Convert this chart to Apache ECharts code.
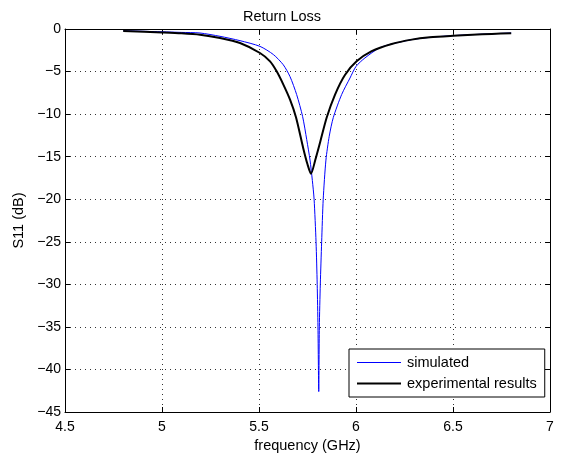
<!DOCTYPE html>
<html>
<head>
<meta charset="utf-8">
<script src="https://cdn.jsdelivr.net/npm/echarts@6/dist/echarts.min.js"></script>
<style>
  html, body { margin: 0; padding: 0; background: #fff; }
  #chart { width: 564px; height: 459px; }
</style>
</head>
<body>
<div id="chart"></div>
<script>
// Simulated S11 (blue trace)
const freqSim = [4.80, 5.00, 5.10, 5.196, 5.299, 5.402, 5.505, 5.574, 5.625, 5.66, 5.694, 5.725, 5.746, 5.763, 5.775, 5.784, 5.794, 5.800, 5.804, 5.808, 5.811, 5.816, 5.823, 5.831, 5.845, 5.862, 5.883, 5.926, 5.969, 6.00, 6.046, 6.12, 6.184, 6.287, 6.381, 6.50, 6.60, 6.70, 6.80];
const s11Sim  = [-0.20, -0.33, -0.40, -0.47, -0.86, -1.37, -2.04, -3.00, -4.20, -5.60, -7.70, -10.30, -13.00, -15.40, -17.80, -20.00, -25.00, -30.00, -35.00, -42.60, -35.00, -30.00, -25.00, -20.00, -15.40, -12.60, -10.40, -7.70, -5.76, -4.40, -3.40, -2.23, -1.76, -1.25, -0.98, -0.78, -0.66, -0.56, -0.47];

// Measured S11 (black trace)
const freqExp = [4.80, 5.00, 5.10, 5.196, 5.299, 5.402, 5.505, 5.557, 5.591, 5.625, 5.66, 5.691, 5.728, 5.750, 5.768, 5.790, 5.814, 5.849, 5.892, 5.943, 6.003, 6.081, 6.184, 6.287, 6.381, 6.50, 6.60, 6.70, 6.80];
const s11Exp  = [-0.23, -0.40, -0.50, -0.67, -1.06, -1.65, -2.82, -3.80, -4.97, -6.50, -8.30, -10.40, -14.00, -15.90, -17.00, -15.40, -13.40, -10.40, -7.70, -5.40, -3.80, -2.60, -1.76, -1.25, -0.98, -0.80, -0.68, -0.58, -0.50];

// Axis ticks
const xTicks = { min: 4.5, max: 7, step: 0.5 };
const yTicks = { min: -45, max: 0, step: 5 };

const seriesNames = ['simulated', 'experimental results'];

const pairs = (xs, ys) => xs.map((x, i) => [x, ys[i]]);
const minus = v => String(v).replace('-', '\u2212');

const FONT = 'Liberation Sans';
const dotted = { color: '#333', width: 1, type: [1, 4] };

// thin bar icons used as line samples in the legend
const lineIcon = h => 'path://M0,0L88,0L88,' + h + 'L0,' + h + 'Z';

const chart = echarts.init(document.getElementById('chart'), null, { renderer: 'canvas' });

chart.setOption({
  animation: false,
  backgroundColor: '#fff',
  textStyle: { fontFamily: FONT, color: '#000' },
  title: {
    text: 'Return Loss',
    left: 'center',
    top: 4,
    textStyle: { fontFamily: FONT, fontSize: 14.5, fontWeight: 'normal', color: '#000' }
  },
  grid: { left: 65, right: 14, top: 29, bottom: 47, containLabel: false },
  legend: {
    orient: 'vertical',
    left: 349,
    top: 349,
    padding: [6, 8, 6, 8],
    itemGap: 6,
    itemWidth: 44,
    itemHeight: 14,
    symbolKeepAspect: true,
    backgroundColor: '#fff',
    borderColor: '#000',
    borderWidth: 1,
    borderRadius: 0,
    textStyle: { fontFamily: FONT, fontSize: 14.5, color: '#000', padding: [0, 0, 0, 1] },
    data: [
      { name: seriesNames[0], icon: lineIcon(2) },
      { name: seriesNames[1], icon: lineIcon(4) }
    ]
  },
  xAxis: [{
    type: 'value',
    min: xTicks.min, max: xTicks.max, interval: xTicks.step,
    name: 'frequency (GHz)',
    nameLocation: 'middle',
    nameGap: 22,
    nameTextStyle: { fontFamily: FONT, fontSize: 14.5, color: '#000' },
    axisLine: { onZero: false, lineStyle: { color: '#000', width: 1 } },
    axisTick: { inside: true, length: 5, lineStyle: { color: '#000' } },
    axisLabel: { fontFamily: FONT, fontSize: 14, color: '#000', margin: 8, formatter: v => minus(v) },
    splitLine: { show: true, lineStyle: dotted }
  }, {
    type: 'value', position: 'top',
    min: xTicks.min, max: xTicks.max, interval: xTicks.step,
    axisLine: { onZero: false, lineStyle: { color: '#000', width: 1 } },
    axisTick: { inside: true, length: 5, lineStyle: { color: '#000' } },
    axisLabel: { show: false },
    splitLine: { show: false }
  }],
  yAxis: [{
    type: 'value',
    min: yTicks.min, max: yTicks.max, interval: yTicks.step,
    name: 'S11 (dB)',
    nameLocation: 'middle',
    nameGap: 36,
    nameRotate: 90,
    nameTextStyle: { fontFamily: FONT, fontSize: 14.5, color: '#000' },
    axisLine: { show: true, onZero: false, lineStyle: { color: '#000', width: 1 } },
    axisTick: { show: true, inside: true, length: 5, lineStyle: { color: '#000' } },
    axisLabel: { fontFamily: FONT, fontSize: 14, color: '#000', margin: 4, formatter: v => minus(v) },
    splitLine: { show: true, lineStyle: dotted }
  }, {
    type: 'value', position: 'right',
    min: yTicks.min, max: yTicks.max, interval: yTicks.step,
    axisLine: { show: true, onZero: false, lineStyle: { color: '#000', width: 1 } },
    axisTick: { show: true, inside: true, length: 5, lineStyle: { color: '#000' } },
    axisLabel: { show: false },
    splitLine: { show: false }
  }],
  series: [{
    name: seriesNames[0],
    type: 'line',
    xAxisIndex: 0, yAxisIndex: 0,
    data: pairs(freqSim, s11Sim),
    symbol: 'none',
    smooth: 0.25,
    lineStyle: { color: '#0000ff', width: 1 },
    itemStyle: { color: '#0000ff' },
    z: 3
  }, {
    name: seriesNames[1],
    type: 'line',
    xAxisIndex: 0, yAxisIndex: 0,
    data: pairs(freqExp, s11Exp),
    symbol: 'none',
    smooth: 0.25,
    lineStyle: { color: '#000', width: 2 },
    itemStyle: { color: '#000' },
    z: 4
  }]
});
</script>
</body>
</html>
